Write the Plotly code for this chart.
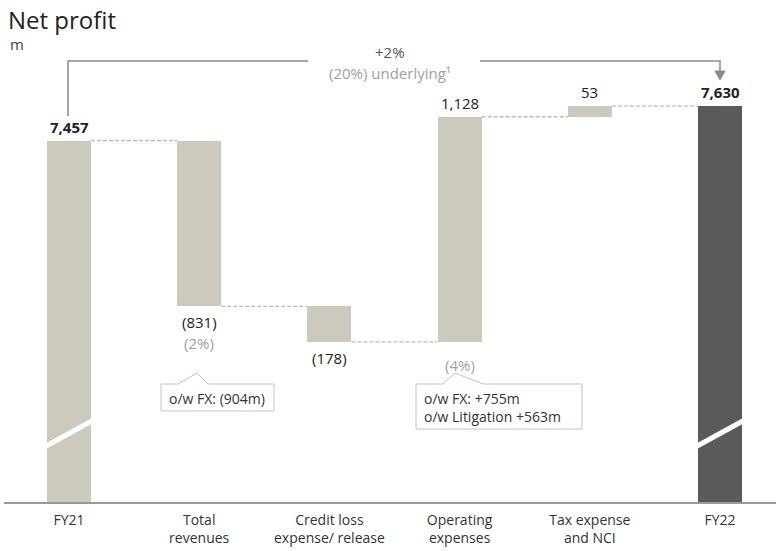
import plotly.graph_objects as go

# ---- data ----
categories = ["FY21", "Total<br>revenues", "Credit loss<br>expense/ release",
              "Operating<br>expenses", "Tax expense<br>and NCI", "FY22"]
measures = ["total", "relative", "relative", "relative", "relative", "total"]
values = [7457, -831, -178, 1128, 53, 7630]
value_labels = ["7,457", "(831)", "(178)", "1,128", "53", "7,630"]
pct_labels = ["", "(2%)", "", "(4%)", "", ""]
callouts = {1: ["o/w FX: (904m)"], 3: ["o/w FX: +755m", "o/w Litigation +563m"]}
headline = "+2%"
underlying = "(20%) underlying\u00b9"

# ---- geometry helpers (pixel -> data) ----
W, H = 776, 551
B = 48                     # bottom margin
X0, DX = 69.0, 130.2       # px of category 0, px per category
Y_BASE, PPU = 5640.0, 0.1995
PLOT_H = H - B


def xd(px):
    return (px - X0) / DX


def yd(py):
    return Y_BASE + (PLOT_H - py) / PPU


BEIGE = "#cccabd"
DARK = "#5a5a5a"
BW = 44 / DX

# compute bar bases / tops
bases, tops = [], []
level = 0
for m, v in zip(measures, values):
    if m == "total":
        bases.append(0)
        tops.append(v)
        level = v
    else:
        lo, hi = sorted([level, level + v])
        bases.append(lo)
        tops.append(hi)
        level += v

xs = list(range(len(categories)))
colors = [DARK if (m == "total" and i == len(values) - 1) else BEIGE
          for i, m in enumerate(measures)]

fig = go.Figure()
fig.add_trace(go.Bar(
    x=xs, y=[t - b for t, b in zip(tops, bases)], base=bases,
    width=BW, marker=dict(color=colors, line=dict(width=0)),
    hoverinfo="skip", showlegend=False))

# connectors
level = 0
for i, (m, v) in enumerate(zip(measures, values)):
    level = v if m == "total" else level + v
    if i < len(values) - 1:
        fig.add_trace(go.Scatter(
            x=[i + BW / 2, i + 1 - BW / 2], y=[level, level], mode="lines",
            line=dict(color="#bdbdbd", width=1.3, dash="4px,2px"),
            hoverinfo="skip", showlegend=False))

annotations = []
FONT = "Open Sans"
for i, (m, v) in enumerate(zip(measures, values)):
    bold = m == "total"
    txt = f"<b>{value_labels[i]}</b>" if bold else value_labels[i]
    if v >= 0:
        annotations.append(dict(x=i, y=tops[i], text=txt, showarrow=False,
                                xanchor="center", yanchor="bottom", yshift=2,
                                font=dict(size=15, color="#222", family=FONT)))
    else:
        annotations.append(dict(x=i, y=bases[i], text=txt, showarrow=False,
                                xanchor="center", yanchor="top", yshift=-4,
                                font=dict(size=15, color="#222", family=FONT)))
    if pct_labels[i]:
        ysh = -25 if v < 0 else -11
        annotations.append(dict(x=i, y=bases[i], text=pct_labels[i], showarrow=False,
                                xanchor="center", yanchor="top", yshift=ysh,
                                font=dict(size=15, color="#a0a0a0", family=FONT)))

# title
annotations.append(dict(x=0, y=1, xref="paper", yref="paper", xshift=6, yshift=-1,
                        text="Net profit", showarrow=False, xanchor="left",
                        yanchor="top", font=dict(size=24, color="#222", family=FONT)))
annotations.append(dict(x=0, y=1, xref="paper", yref="paper", xshift=8, yshift=-32,
                        text="m", showarrow=False, xanchor="left", yanchor="top",
                        font=dict(size=15, color="#444", family=FONT)))

# headline change
annotations.append(dict(x=xd(390), y=yd(52), text=headline, showarrow=False,
                        xanchor="center", yanchor="middle",
                        font=dict(size=15, color="#555", family=FONT)))
annotations.append(dict(x=xd(390), y=yd(73), text=underlying, showarrow=False,
                        xanchor="center", yanchor="middle",
                        font=dict(size=15, color="#a0a0a0", family=FONT)))

shapes = []
LC = "#8a8a8a"
shapes.append(dict(type="path", xref="x", yref="y",
                   path=f"M {xd(68)} {yd(116)} V {yd(61)} H {xd(308)}",
                   line=dict(color=LC, width=1.5)))
shapes.append(dict(type="path", xref="x", yref="y",
                   path=f"M {xd(480)} {yd(61)} H {xd(720)} V {yd(72)}",
                   line=dict(color=LC, width=1.5)))
shapes.append(dict(type="path", xref="x", yref="y",
                   path=f"M {xd(715)} {yd(71)} L {xd(725)} {yd(71)} L {xd(720)} {yd(80)} Z",
                   fillcolor=LC, line=dict(color=LC, width=1)))

# callout boxes
box1 = (f"M {xd(161)} {yd(384)} L {xd(178)} {yd(384)} L {xd(197)} {yd(373)} "
        f"L {xd(208)} {yd(384)} L {xd(274)} {yd(384)} L {xd(274)} {yd(411)} "
        f"L {xd(161)} {yd(411)} Z")
box2 = (f"M {xd(416)} {yd(384)} L {xd(443)} {yd(384)} L {xd(455)} {yd(373)} "
        f"L {xd(483)} {yd(384)} L {xd(582)} {yd(384)} L {xd(582)} {yd(429)} "
        f"L {xd(416)} {yd(429)} Z")
for p in (box1, box2):
    shapes.append(dict(type="path", xref="x", yref="y", path=p,
                       fillcolor="white", line=dict(color="#c4c4c4", width=1)))
for j, line in enumerate(callouts[1]):
    annotations.append(dict(x=xd(167), y=yd(398 + 18 * j), text=line, showarrow=False,
                            xanchor="left", yanchor="middle",
                            font=dict(size=14, color="#333", family=FONT)))
for j, line in enumerate(callouts[3]):
    annotations.append(dict(x=xd(422), y=yd(398 + 18 * j), text=line, showarrow=False,
                            xanchor="left", yanchor="middle",
                            font=dict(size=14, color="#333", family=FONT)))

# axis break marks
for i in (0, 5):
    shapes.append(dict(type="line", xref="x", yref="y",
                       x0=i - BW / 2 - 0.02, x1=i + BW / 2 + 0.02,
                       y0=yd(447), y1=yd(420),
                       line=dict(color="white", width=5)))

# baseline
shapes.append(dict(type="line", xref="paper", yref="paper", x0=0.005, x1=1,
                   y0=0, y1=0, line=dict(color="#999", width=2)))

fig.update_layout(
    width=W, height=H,
    margin=dict(l=0, r=0, t=0, b=B),
    plot_bgcolor="white", paper_bgcolor="white",
    xaxis=dict(range=[xd(0), xd(W)], tickvals=xs, ticktext=categories,
               showgrid=False, zeroline=False, showline=False, ticks="",
               ticklabelstandoff=7,
               tickfont=dict(size=14, color="#333", family=FONT)),
    yaxis=dict(range=[yd(PLOT_H), yd(0)], visible=False, showgrid=False),
    annotations=annotations, shapes=shapes, bargap=0,
)

fig.write_html("out.html")
